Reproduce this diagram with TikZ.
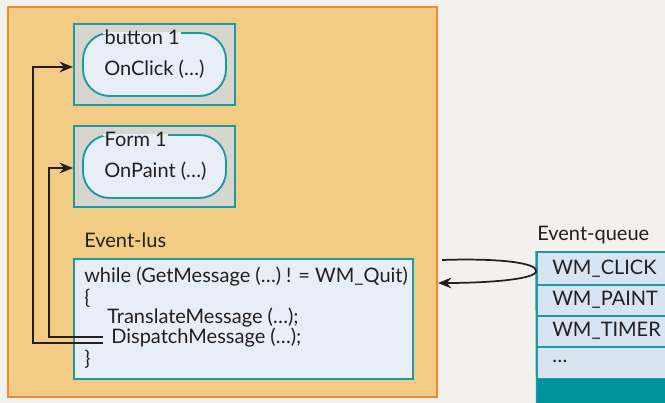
\documentclass[tikz,border=0pt]{standalone}
\usepackage{fontspec}
\setmainfont{Lato}
\usetikzlibrary{arrows.meta,fit}
\pgfdeclarelayer{fg}
\pgfsetlayers{main,fg}
\definecolor{bgc}{HTML}{F2F1ED}
\definecolor{orangefill}{HTML}{F2CC85}
\definecolor{orangeline}{HTML}{EE8A30}
\definecolor{teal}{HTML}{1A9AA2}
\definecolor{grayfill}{HTML}{D6D5CE}
\definecolor{innerfill}{HTML}{E8EEF8}
\definecolor{rowfill}{HTML}{D9E4F2}
\definecolor{tealbar}{HTML}{00929A}
\definecolor{txt}{HTML}{231F20}
\begin{document}
\begin{tikzpicture}[x=0.75pt,y=-0.75pt,
  box/.style={fit={#1}, inner sep=0pt, draw=teal, line width=1.6pt},
  txtnode/.style={anchor=west, inner sep=0pt, text=txt, font=\fontsize{15}{17}\selectfont},
  conn/.style={draw=txt, line width=1.5pt},
  arr/.style={conn, -{Stealth[length=10pt,width=8pt]}}]
\useasboundingbox (0,0) rectangle (665,403);
\fill[bgc] (0,0) rectangle (665,403);
% outer orange area
\node[fit={(8,7) (437,397)}, inner sep=0pt, draw=orangeline, fill=orangefill, line width=1.5pt] (outer) {};
% button 1
\node[box={(74,24) (235,105)}, fill=grayfill] (b1) {};
\node[box={(83,33) (226,96)}, fill=innerfill, rounded corners=20pt, line width=1.4pt] (b1in) {};
\begin{pgfonlayer}{fg}
\node[txtnode, inner xsep=1pt] (b1lab) at (103,37) {button 1};
\end{pgfonlayer}
\fill[innerfill] (b1lab.west |- 0,32) rectangle (b1lab.east |- 0,34.5);
\node[txtnode] (b1txt) at (104,69) {OnClick (…)};
% form 1
\node[box={(74,126) (235,207)}, fill=grayfill] (f1) {};
\node[box={(83,135) (226,198)}, fill=innerfill, rounded corners=20pt, line width=1.4pt] (f1in) {};
\begin{pgfonlayer}{fg}
\node[txtnode, inner xsep=1pt] (f1lab) at (103,139) {Form 1};
\end{pgfonlayer}
\fill[innerfill] (f1lab.west |- 0,134) rectangle (f1lab.east |- 0,136.5);
\node[txtnode] (f1txt) at (104,171) {OnPaint (…)};
% event loop
\node[txtnode] (evlab) at (84,240) {Event-lus};
\node[box={(74,259) (413,379)}, fill=innerfill] (code) {};
\node[txtnode] (l1) at (84,277) {while (GetMessage (…) ! = WM\_Quit)};
\node[txtnode] (l2) at (84,298) {\{};
\node[txtnode] (l3) at (107,318) {TranslateMessage (…);};
\node[txtnode] (l4) at (111,338) {DispatchMessage (…);};
\node[txtnode] (l5) at (84,359) {\}};
% dispatch connectors
\coordinate (d1) at (103,343);
\coordinate (d2) at (103,337);
\draw[arr] (d1) -- (33,343) -- (33,67) -- (b1.west |- 0,67);
\draw[arr] (d2) -- (49,337) -- (49,168) -- (f1.west |- 0,168);
% event queue
\node[txtnode] (qlab) at (537,235) {Event-queue};
\node[box={(537,252) (670,285)}, fill=rowfill, line width=1.3pt] (q1) {};
\node[box={(537,285) (670,316)}, fill=rowfill, line width=1.3pt] (q2) {};
\node[box={(537,316) (670,347)}, fill=rowfill, line width=1.3pt] (q3) {};
\node[box={(537,347) (670,379)}, fill=rowfill, line width=1.3pt] (q4) {};
\node[fit={(537,379) (670,406)}, inner sep=0pt, fill=tealbar] (q5) {};
\draw[teal, line width=1.3pt] (q1.north west) -- (q5.south west);
\node[txtnode] at (552,269) {WM\_CLICK};
\node[txtnode] at (552,300) {WM\_PAINT};
\node[txtnode] at (552,331) {WM\_TIMER};
\node[txtnode] at (552,361) {…};
% queue arrow
\coordinate (qs) at (442,260);
\draw[arr, line width=1.3pt] (qs) .. controls (500,258) and (537,263) .. (q1.west |- 0,271)
  .. controls (537,279) and (490,283) .. (outer.east |- 0,283);
\end{tikzpicture}
\end{document}
